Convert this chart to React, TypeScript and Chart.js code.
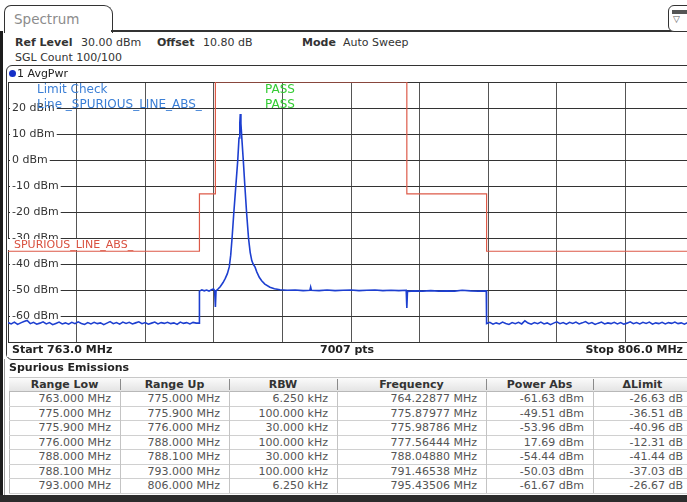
import React, { useEffect, useRef } from "react";
import { Chart, registerables } from "chart.js";
Chart.register(...registerables);

const FONT = '"DejaVu Sans", Verdana, sans-serif';

// ---- axis ----
const startFreq = 763.0;
const stopFreq = 806.0;
const refLevel = 30;
const bottomLevel = -70;
const levelTicks = [20, 10, 0, -10, -20, -30, -40, -50, -60];

// ---- limit line (SPURIOUS_LINE_ABS_) ----
const limitFreq = [763, 775, 775, 776, 776, 788, 788, 793, 793, 806];
const limitLevel = [-35, -35, -13, -13, 30, 30, -13, -13, -35, -35];

// ---- trace 1 AvgPwr ----
const traceFreq = [
  763.0, 763.2, 763.4, 763.6, 763.8, 764.0, 764.2, 764.4, 764.6, 764.8,
  765.0, 765.2, 765.4, 765.6, 765.8, 766.0, 766.2, 766.4, 766.6, 766.8,
  767.0, 767.2, 767.4, 767.6, 767.8, 768.0, 768.2, 768.4, 768.6, 768.8,
  769.0, 769.2, 769.4, 769.6, 769.8, 770.0, 770.2, 770.4, 770.6, 770.8,
  771.0, 771.2, 771.4, 771.6, 771.8, 772.0, 772.2, 772.4, 772.6, 772.8,
  773.0, 773.2, 773.4, 773.6, 773.8, 774.0, 774.2, 774.4, 774.6, 774.8,
  774.98,
  775.0, 775.15, 775.3, 775.45, 775.6, 775.75, 775.88, 775.95, 776.0, 776.04,
  776.18, 776.3, 776.48, 776.62, 776.75, 776.87, 776.96, 777.05, 777.15, 777.28,
  777.4, 777.48, 777.53, 777.56, 777.6, 777.67, 777.75, 777.85, 777.96, 778.08,
  778.18, 778.28, 778.38, 778.48, 778.6, 778.75, 778.9, 779.1, 779.42, 779.7,
  780.05, 780.5, 781.0, 781.5, 781.92, 781.97, 782.02, 782.5, 783.0, 783.5,
  784.0, 784.5, 785.0, 785.5, 786.0, 786.5, 787.0, 787.5, 787.96, 788.0,
  788.04, 788.5, 789.0, 789.5, 790.0, 790.5, 791.0, 791.47, 792.0, 792.5,
  792.98,
  793.0, 793.2, 793.4, 793.6, 793.8, 794.0, 794.2, 794.4, 794.6, 794.8,
  795.0, 795.2, 795.4, 795.6, 795.8, 796.0, 796.2, 796.4, 796.6, 796.8,
  797.0, 797.2, 797.4, 797.6, 797.8, 798.0, 798.2, 798.4, 798.6, 798.8,
  799.0, 799.2, 799.4, 799.6, 799.8, 800.0, 800.2, 800.4, 800.6, 800.8,
  801.0, 801.2, 801.4, 801.6, 801.8, 802.0, 802.2, 802.4, 802.6, 802.8,
  803.0, 803.2, 803.4, 803.6, 803.8, 804.0, 804.2, 804.4, 804.6, 804.8,
  805.0, 805.2, 805.4, 805.6, 805.8, 806.0,
];
const tracePower = [
  -62.4, -62.9, -62.2, -63.1, -62.5, -62.0, -61.6, -62.8, -62.3, -63.0,
  -62.6, -62.1, -62.9, -62.4, -63.2, -62.7, -62.2, -62.9, -62.5, -63.0,
  -62.3, -62.8, -62.1, -62.7, -63.1, -62.4, -62.9, -62.3, -62.8, -62.5,
  -63.2, -62.6, -62.0, -62.8, -62.4, -63.0, -62.2, -62.7, -62.3, -62.9,
  -62.5, -62.1, -62.8, -62.4, -63.0, -62.6, -62.2, -62.9, -62.4, -62.7,
  -62.3, -62.8, -62.5, -63.1, -62.2, -62.7, -62.4, -62.9, -62.3, -62.6,
  -62.6,
  -50.3, -49.8, -50.2, -49.9, -50.3, -49.8, -49.5, -50.1, -56.4, -50.2,
  -49.4, -48.6, -47.0, -45.4, -43.6, -41.0, -36.5, -29.5, -20.6, -10.0,
  -0.2, 8.5, 14.2, 17.69, 14.0, 7.2, -0.2, -10.2, -20.6, -30.2,
  -35.4, -38.6, -40.1, -41.0, -43.0, -45.0, -46.3, -47.6, -48.8, -49.4,
  -49.8, -50.0, -49.9, -50.1, -50.0, -48.7, -50.0, -50.1, -49.9, -50.1,
  -50.0, -49.9, -50.1, -50.0, -49.9, -50.1, -50.0, -50.1, -50.0, -56.8,
  -50.4, -50.2, -50.3, -50.1, -50.3, -50.2, -50.3, -50.0, -50.2, -50.3,
  -50.2,
  -62.8, -62.3, -63.0, -62.5, -62.9, -62.2, -62.7, -63.1, -62.4, -62.8,
  -62.3, -62.9, -61.7, -62.6, -63.0, -62.4, -62.8, -62.2, -62.9, -62.5,
  -63.2, -62.6, -62.1, -62.8, -62.4, -63.0, -62.3, -62.7, -62.2, -62.9,
  -62.5, -62.0, -62.8, -62.4, -63.1, -62.6, -62.2, -62.9, -62.5, -62.8,
  -62.3, -62.9, -62.4, -63.0, -62.6, -62.1, -62.8, -62.4, -62.9, -62.3,
  -62.7, -62.2, -63.0, -62.5, -62.8, -62.3, -62.9, -62.4, -62.7, -62.2,
  -62.8, -62.5, -63.0, -62.4, -62.7, -62.6,
];

// ---- result table ----
const tableHeaders = ["Range Low", "Range Up", "RBW", "Frequency", "Power Abs", "\u0394Limit"];
const rangeLow = ["763.000 MHz", "775.000 MHz", "775.900 MHz", "776.000 MHz", "788.000 MHz", "788.100 MHz", "793.000 MHz"];
const rangeUp = ["775.000 MHz", "775.900 MHz", "776.000 MHz", "788.000 MHz", "788.100 MHz", "793.000 MHz", "806.000 MHz"];
const rbw = ["6.250 kHz", "100.000 kHz", "30.000 kHz", "100.000 kHz", "30.000 kHz", "100.000 kHz", "6.250 kHz"];
const peakFreq = ["764.22877 MHz", "775.87977 MHz", "775.98786 MHz", "777.56444 MHz", "788.04880 MHz", "791.46538 MHz", "795.43506 MHz"];
const powerAbs = ["-61.63 dBm", "-49.51 dBm", "-53.96 dBm", "17.69 dBm", "-54.44 dBm", "-50.03 dBm", "-61.67 dBm"];
const deltaLimit = ["-26.63 dB", "-36.51 dB", "-40.96 dB", "-12.31 dB", "-41.44 dB", "-37.03 dB", "-26.67 dB"];

const colEdges = [9, 120, 229, 337, 486, 593, 692];

function Txt(props: any) {
  const { x, y, children, bold, color, size, style } = props;
  return (
    <div
      style={{
        position: "absolute",
        left: x,
        top: y - 7,
        lineHeight: "14px",
        height: 14,
        whiteSpace: "nowrap",
        fontFamily: FONT,
        fontSize: size || 11,
        fontWeight: bold ? "bold" : "normal",
        color: color || "#333",
        ...style,
      }}
    >
      {children}
    </div>
  );
}

function Box(props: any) {
  return <div style={{ position: "absolute", ...props.s }} />;
}

export default function App() {
  const ref = useRef<HTMLCanvasElement>(null);

  useEffect(() => {
    const canvas = ref.current!;
    const chart = new Chart(canvas, {
      type: "line",
      data: {
        datasets: [
          {
            label: "SPURIOUS_LINE_ABS_",
            data: limitFreq.map((f, i) => ({ x: f, y: limitLevel[i] })),
            borderColor: "#dd5a48",
            borderWidth: 1.2,
            pointRadius: 0,
            tension: 0,
          },
          {
            label: "1 AvgPwr",
            data: traceFreq.map((f, i) => ({ x: f, y: tracePower[i] })),
            borderColor: "#1d3fd0",
            borderWidth: 1.6,
            pointRadius: 0,
            tension: 0,
          },
        ],
      },
      options: {
        responsive: false,
        animation: false,
        events: [],
        layout: { padding: { left: 0, top: 16, right: 6, bottom: 4 } },
        plugins: { legend: { display: false }, tooltip: { enabled: false } },
        scales: {
          x: {
            type: "linear",
            min: startFreq,
            max: stopFreq,
            afterBuildTicks: (axis: any) => {
              const t = [];
              for (let i = 0; i <= 10; i++) t.push({ value: startFreq + (i * (stopFreq - startFreq)) / 10 });
              axis.ticks = t;
            },
            ticks: { display: false },
            grid: { color: "#555", lineWidth: 1, drawTicks: false },
            border: { display: true, color: "#333", width: 1 },
          },
          y: {
            min: bottomLevel,
            max: refLevel,
            ticks: {
              stepSize: 10,
              mirror: true,
              padding: 4,
              color: "#333",
              font: { family: FONT, size: 11 },
              showLabelBackdrop: true,
              backdropColor: (ctx: any) =>
                levelTicks.includes(ctx.tick?.value) ? "#ffffff" : "rgba(0,0,0,0)",
              backdropPadding: { top: 0, bottom: 0, left: 2, right: 2 },
              callback: (v: any) => (levelTicks.includes(v) ? `${v} dBm` : ""),
            },
            grid: { color: "#333", lineWidth: 1, drawTicks: false },
            border: { display: true, color: "#333", width: 1 },
          },
        },
      },
    });
    return () => chart.destroy();
  }, []);

  const rowTop = 391;
  const rowH = 14.55;
  const columns = [rangeLow, rangeUp, rbw, peakFreq, powerAbs, deltaLimit];

  return (
    <div
      style={{
        position: "fixed",
        left: 0,
        top: 0,
        width: 687,
        height: 502,
        overflow: "hidden",
        background: "#fff",
        fontFamily: FONT,
      }}
    >
      {/* left dark strip */}
      <Box s={{ left: 0, top: 31, width: 3, height: 471, background: "#1c1c1c" }} />
      <Box s={{ left: 4, top: 359, width: 1, height: 136, background: "#9a9a9a" }} />

      {/* tab */}
      <Box
        s={{
          left: 4,
          top: 5,
          width: 107,
          height: 27,
          border: "1.5px solid #333",
          borderBottom: "none",
          borderRadius: "7px 9px 0 0",
          background: "#fff",
        }}
      />
      <Txt x={14} y={19} size={13.5} color="#8c8c8c">Spectrum</Txt>
      <Box s={{ left: 111, top: 30, width: 600, height: 2, background: "#333" }} />

      {/* right icon */}
      <Box
        s={{
          left: 668,
          top: 5,
          width: 26,
          height: 25,
          border: "1.5px solid #333",
          borderRadius: 6,
          background: "#fff",
        }}
      />
      <Box s={{ left: 672, top: 10, width: 15, height: 4, background: "#555" }} />
      <Txt x={673} y={19} size={9} color="#555">▽</Txt>

      {/* info */}
      <Txt x={15} y={43} bold>Ref Level</Txt>
      <Txt x={81} y={43}>30.00 dBm</Txt>
      <Txt x={157} y={43} bold>Offset</Txt>
      <Txt x={203} y={43}>10.80 dB</Txt>
      <Txt x={302} y={43} bold>Mode</Txt>
      <Txt x={343} y={43}>Auto Sweep</Txt>
      <Txt x={15} y={58}>SGL Count 100/100</Txt>

      {/* chart */}
      <canvas
        ref={ref}
        width={700}
        height={287}
        style={{ position: "absolute", left: 0, top: 66, width: 700, height: 287, display: "block" }}
      />

      {/* diagram frame */}
      <Box
        s={{
          left: 6,
          top: 65,
          width: 700,
          height: 293,
          border: "1.5px solid #333",
          borderRadius: 6,
        }}
      />

      {/* trace title */}
      <Box s={{ left: 9, top: 70, width: 7, height: 7, borderRadius: 4, background: "#1530c8" }} />
      <Txt x={17} y={74} color="#222">1 AvgPwr</Txt>

      {/* limit check overlay */}
      <Txt x={37} y={89} size={12} color="#3b7fd6">Limit Check</Txt>
      <Txt x={37} y={104} size={12} color="#3b7fd6">Line _SPURIOUS_LINE_ABS_</Txt>
      <Txt x={265} y={89} size={12} color="#33cc33">PASS</Txt>
      <Txt x={265} y={104} size={12} color="#33cc33">PASS</Txt>

      {/* limit line label */}
      <div
        style={{
          position: "absolute",
          left: 8,
          top: 239,
          width: 132,
          height: 11,
          background: "#fff",
          color: "#d9503f",
          fontFamily: FONT,
          fontSize: 11,
          lineHeight: "11px",
          paddingLeft: 6,
          boxSizing: "border-box",
          whiteSpace: "nowrap",
        }}
      >
        SPURIOUS_LINE_ABS_
      </div>

      {/* footer of diagram */}
      <Box s={{ left: 7, top: 343, width: 700, height: 14, background: "#fff" }} />
      <Txt x={12} y={350} bold color="#222">Start 763.0 MHz</Txt>
      <Txt x={320} y={350} bold color="#222">7007 pts</Txt>
      <div
        style={{
          position: "absolute",
          left: 500,
          width: 183,
          top: 343,
          lineHeight: "14px",
          textAlign: "right",
          fontFamily: FONT,
          fontSize: 11,
          fontWeight: "bold",
          color: "#222",
          whiteSpace: "nowrap",
        }}
      >
        Stop 806.0 MHz
      </div>

      {/* Spurious emissions table */}
      <Txt x={9} y={368} bold color="#222">Spurious Emissions</Txt>
      <Box
        s={{
          left: colEdges[0],
          top: 377,
          width: colEdges[6] - colEdges[0],
          height: 14,
          background: "linear-gradient(#fbfbfb, #e4e4e4)",
          borderTop: "1px solid #c8c8c8",
          boxSizing: "border-box",
        }}
      />
      {tableHeaders.map((h, c) => (
        <div
          key={"h" + c}
          style={{
            position: "absolute",
            left: colEdges[c],
            width: colEdges[c + 1] - colEdges[c],
            top: 377,
            height: 14,
            lineHeight: "15px",
            textAlign: "center",
            fontFamily: FONT,
            fontSize: 11,
            fontWeight: "bold",
            color: "#333",
            whiteSpace: "nowrap",
          }}
        >
          {h}
        </div>
      ))}
      {colEdges.slice(1, 6).map((x, i) => (
        <Box key={"hs" + i} s={{ left: x, top: 379, width: 1, height: 11, background: "#8a8a8a" }} />
      ))}
      <Box
        s={{
          left: colEdges[0],
          top: rowTop,
          width: colEdges[6] - colEdges[0],
          height: rowH * 7 + 1,
          border: "1px solid #b8b8b8",
          boxSizing: "border-box",
          background: "#fff",
        }}
      />
      {rangeLow.map((_, r) => (
        <Box
          key={"rl" + r}
          s={{ left: colEdges[0], top: rowTop + rowH * (r + 1), width: colEdges[6] - colEdges[0], height: 1, background: "#d0d0d0" }}
        />
      ))}
      {colEdges.slice(1, 6).map((x, i) => (
        <Box key={"cs" + i} s={{ left: x, top: rowTop, width: 1, height: rowH * 7, background: "#c4c4c4" }} />
      ))}
      {columns.map((col, c) =>
        col.map((v, r) => (
          <div
            key={"c" + c + "_" + r}
            style={{
              position: "absolute",
              left: colEdges[c],
              width: colEdges[c + 1] - colEdges[c] - 9,
              top: rowTop + rowH * r,
              height: rowH,
              lineHeight: rowH + 1 + "px",
              textAlign: "right",
              fontFamily: FONT,
              fontSize: 11,
              color: "#555",
              whiteSpace: "nowrap",
            }}
          >
            {v}
          </div>
        ))
      )}

      {/* bottom dark strip */}
      <Box s={{ left: 0, top: 495, width: 687, height: 7, background: "#2c2c2c" }} />
    </div>
  );
}
